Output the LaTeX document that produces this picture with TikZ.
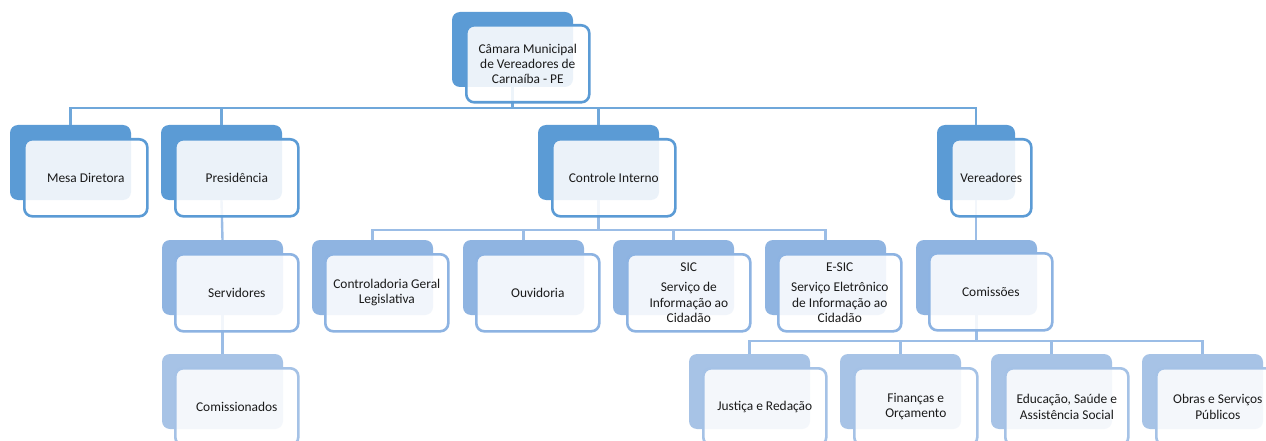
\documentclass[tikz,border=0pt]{standalone}
\usepackage{fontspec}
\setmainfont{Carlito}
\definecolor{bk1}{HTML}{5B9BD5}
\definecolor{bk2}{HTML}{8FB4E1}
\definecolor{bk3}{HTML}{A7C3E6}
\definecolor{br1}{HTML}{5B9BD5}
\definecolor{br2}{HTML}{8DB3E2}
\definecolor{br3}{HTML}{A5C2E6}
\definecolor{ln1}{HTML}{6FA7DA}
\definecolor{ln2}{HTML}{9BBDE6}
\definecolor{txt}{HTML}{1A1A1A}
\tikzset{
  backbox/.style={fill=#1, rounded corners=8pt, minimum width=121pt, minimum height=75pt, anchor=north west, inner sep=0pt, outer sep=0pt},
  frontbox/.style={draw=#1, line width=2.6pt, fill=white, fill opacity=0.88, text opacity=1, text=txt, rounded corners=8pt, minimum width=123pt, minimum height=77pt, anchor=north west, align=center, inner sep=2pt, font=\fontsize{13.4}{15.3}\selectfont},
  narrow/.style={minimum width=80pt},
  narrowb/.style={minimum width=78pt},
  conn/.style={draw=#1, line width=2.4pt}
}
\begin{document}
\begin{tikzpicture}[x=1pt,y=-1pt]
\useasboundingbox (0,0) rectangle (1266,441);
\fill[white] (0,0) rectangle (1266,441);

% back boxes
\node[backbox=bk1] (topB) at (452,12) {};
\node[backbox=bk1] (mesaB) at (10,125) {};
\node[backbox=bk1] (presB) at (161,125) {};
\node[backbox=bk1] (ctrlB) at (538,125) {};
\node[backbox=bk1,narrowb] (verB) at (937,125) {};
\node[backbox=bk2] (servB) at (162,240) {};
\node[backbox=bk3] (commB) at (162,354) {};
\node[backbox=bk2] (contrB) at (312,240) {};
\node[backbox=bk2] (ouvB) at (463,240) {};
\node[backbox=bk2] (sicB) at (613,240) {};
\node[backbox=bk2] (esicB) at (765,240) {};
\node[backbox=bk2] (comsB) at (916,240) {};
\node[backbox=bk3] (jusB) at (689,354) {};
\node[backbox=bk3] (finB) at (840,354) {};
\node[backbox=bk3] (eduB) at (991,354) {};
\node[backbox=bk3] (obrB) at (1142,354) {};

% bus coordinates
\coordinate (bus1) at (topB.south |- 0,108);
\coordinate (bus2) at (ctrlB.south |- 0,230);
\coordinate (bus3) at (comsB.south |- 0,341);

% connectors
\draw[conn=ln1] (topB.south) -- (bus1);
\foreach \n in {mesaB,presB,ctrlB,verB}{\draw[conn=ln1] (\n.north) |- (bus1);}
\draw[conn=ln2] (presB.south) -- (servB.north);
\draw[conn=ln2] (servB.south) -- (commB.north);
\draw[conn=ln2] (ctrlB.south) -- (bus2);
\foreach \n in {contrB,ouvB,sicB,esicB}{\draw[conn=ln2] (\n.north) |- (bus2);}
\draw[conn=ln2] (verB.south) -- (comsB.north -| verB.south);
\draw[conn=ln2] (comsB.south) -- (bus3);
\foreach \n in {jusB,finB,eduB,obrB}{\draw[conn=ln2] (\n.north) |- (bus3);}

% front boxes
\node[frontbox=br1] (top) at (465,24) {Câmara Municipal\\de Vereadores de\\Carnaíba - PE};
\node[frontbox=br1] (mesa) at (23,138) {Mesa Diretora};
\node[frontbox=br1] (pres) at (174,138) {Presidência};
\node[frontbox=br1] (ctrl) at (551,138) {Controle Interno};
\node[frontbox=br1,narrow] (ver) at (950,138) {Vereadores};
\node[frontbox=br2] (serv) at (174,253) {Servidores};
\node[frontbox=br3] (comm) at (174,367) {Comissionados};
\node[frontbox=br2] (contr) at (324,253) {Controladoria Geral\\Legislativa};
\node[frontbox=br2] (ouv) at (475,253) {Ouvidoria};
\node[frontbox=br2] (sic) at (626,253) {SIC\\[5pt]Serviço de\\Informação ao\\Cidadão};
\node[frontbox=br2] (esic) at (777,253) {E-SIC\\[5pt]Serviço Eletrônico\\de Informação ao\\Cidadão};
\node[frontbox=br2] (coms) at (928,252) {Comissões};
\node[frontbox=br3] (jus) at (702,367) {Justiça e Redação};
\node[frontbox=br3] (fin) at (853,367) {Finanças e\\Orçamento};
\node[frontbox=br3] (edu) at (1004,367) {Educação, Saúde e\\Assistência Social};
\node[frontbox=br3] (obr) at (1155,367) {Obras e Serviços\\Públicos};
\end{tikzpicture}
\end{document}
